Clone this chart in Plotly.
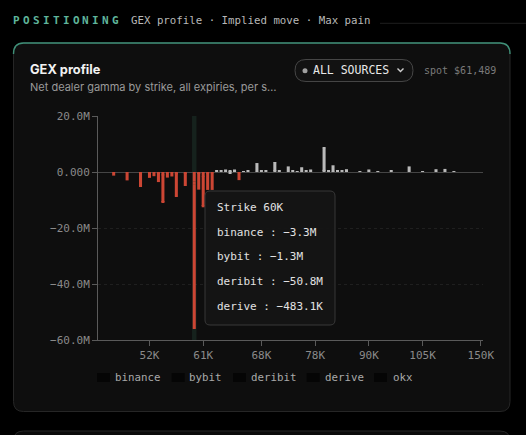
import plotly.graph_objects as go

# ---------------- data ----------------
strikes_k = [35, 40, 42, 44, 45, 46, 47, 48, 49, 50,
             51, 52, 53, 54, 55, 56, 57, 58, 58.5, 59,
             59.5, 60, 60.5, 61, 61.5, 62, 62.5, 63, 63.5, 64,
             64.5, 65, 65.5, 66, 66.5, 67, 68, 69, 70, 71,
             72, 73, 74, 75, 76, 76.5, 77, 77.5, 78, 79,
             80, 81, 82, 83, 84, 85, 86, 87, 88, 89,
             90, 91, 92, 93, 94, 95, 96, 97, 98, 100,
             102, 104, 105, 106, 108, 110, 112, 115, 118, 120,
             125, 130, 135, 140, 145, 150]

# net dealer gamma per source, $M
deribit = [0, 0, 0, -1.3, 0, 0, -3.0, 0, 0, -5.0,
           0, -2.1, -1.5, -3.2, -9.1, -2.0, -1.6, -7.4, 0, -4.6,
           0, -50.8, -5.6, -10.3, -5.9, -5.8, 0.6, 0.4, 0.9, 0.3,
           0.9, -2.6, 0.2, 0.4, 0, 2.9, 0.6, 0.4, 0, 2.9,
           0.4, 0, 2.0, 0.4, 0.1, 1.7, 0.4, 0.9, 0, 0,
           7.3, 0.5, 2.2, 0.4, 0.5, 1.0, 0, 0, 0.3, 0,
           0.9, 0, 0.3, 0, 0, 0.5, 0, 0, 0, 2.0,
           0, 0, 0.3, 0, 0, 1.0, 0, 1.1, 0, 0.2,
           0, 0, 0, 0, 0, 0]
binance = [0, 0, 0, 0, 0, 0, 0, 0, 0, 0,
           0, 0, 0, -0.4, -0.9, 0, 0, -0.6, 0, -0.4,
           0, -3.3, -0.5, -1.1, -0.5, -0.6, 0, 0, 0, -0.6,
           0, -0.3, 0, 0, 0, 0.3, 0, 0, 0, 0.4,
           0, 0, 0, 0, 0, 0, 0, 0, 0, 0,
           0.7, 0, 0, 0, 0, 0, 0, 0, 0, 0,
           0, 0, 0, 0, 0, 0, 0, 0, 0, 0,
           0, 0, 0, 0, 0, 0, 0, 0, 0, 0,
           0, 0, 0, 0, 0, 0]
bybit = [0, 0, 0, 0, 0, 0, 0, 0, 0, 0,
         0, 0, 0, 0, -0.4, 0, 0, -0.3, 0, 0,
         0, -1.3, -0.2, -0.5, 0, 0, 0, 0, 0, 0,
         0, 0, 0, 0, 0, 0, 0, 0, 0, 0,
         0, 0, 0, 0, 0, 0, 0, 0, 0, 0,
         0.3, 0, 0.2, 0, 0, 0, 0, 0, 0, 0,
         0, 0, 0, 0, 0, 0, 0, 0, 0, 0,
         0, 0, 0, 0, 0, 0, 0, 0, 0, 0,
         0, 0, 0, 0, 0, 0]
derive = [0, 0, 0, 0, 0, 0, 0, 0, 0, 0,
          0, 0, 0, 0, -0.1, 0, 0, 0, 0, 0,
          0, -0.4831, 0, -0.1, 0, 0, 0, 0, 0, 0,
          0, 0, 0, 0, 0, 0, 0, 0, 0, 0,
          0, 0, 0, 0, 0, 0, 0, 0, 0, 0,
          0, 0, 0, 0, 0, 0, 0, 0, 0, 0,
          0, 0, 0, 0, 0, 0, 0, 0, 0, 0,
          0, 0, 0, 0, 0, 0, 0, 0, 0, 0,
          0, 0, 0, 0, 0, 0]
okx = [0, 0, 0, 0, 0, 0, 0, 0, 0, -0.3,
       0, 0, 0, 0, -0.5, 0, 0, -0.4, 0, 0,
       0, 0, 0, -0.6, 0, 0, 0, 0, 0, 0.3,
       0, 0, 0, 0, 0, 0, 0, 0, 0, 0.2,
       0, 0, 0, 0, 0, 0, 0, 0, 0, 0,
       0.4, 0, 0, 0, 0, 0, 0, 0, 0, 0,
       0, 0, 0, 0, 0, 0, 0, 0, 0, 0,
       0, 0, 0, 0, 0, 0, 0, 0, 0, 0,
       0, 0, 0, 0, 0, 0]

sources = ["binance", "bybit", "deribit", "derive", "okx"]
source_values = [binance, bybit, deribit, derive, okx]

x_tick_labels = ["52K", "61K", "68K", "78K", "90K", "105K", "150K"]
y_tick_vals = [20, 0, -20, -40, -60]
y_tick_text = ["20.0M", "0.000", "\u221220.0M", "\u221240.0M", "\u221260.0M"]
hover_strike = "60K"
spot_text = "spot $61,489"

# ---------------- layout helpers ----------------
W, H = 526, 435
L, R, T, B = 98, 43, 116, 95
PW, PH = W - L - R, H - T - B
MONO = "DejaVu Sans Mono"
SANS = "Inter"


def px(x):
    return (x - L) / PW


def py(y):
    return (H - B - y) / PH


def pt(x, y):
    return f"{px(x):.5f},{py(y):.5f}"


def rrect(x0, y0, x1, y1, r):
    return (f"M {pt(x0 + r, y0)} L {pt(x1 - r, y0)} Q {pt(x1, y0)} {pt(x1, y0 + r)} "
            f"L {pt(x1, y1 - r)} Q {pt(x1, y1)} {pt(x1 - r, y1)} "
            f"L {pt(x0 + r, y1)} Q {pt(x0, y1)} {pt(x0, y1 - r)} "
            f"L {pt(x0, y0 + r)} Q {pt(x0, y0)} {pt(x0 + r, y0)} Z")


def label_k(s):
    return (f"{s:g}K")


labels = [label_k(s) for s in strikes_k]
net = [sum(v[i] for v in source_values) for i in range(len(strikes_k))]
RED, GREY = "#cc4634", "#b9b9b9"
colors = [GREY if n >= 0 else RED for n in net]

fig = go.Figure()
for name, vals in zip(sources, source_values):
    fig.add_trace(go.Bar(x=labels, y=vals, name=name, marker=dict(color=colors, line=dict(width=0)),
                         showlegend=False, hoverinfo="skip"))

shapes = []
annotations = []


def text(x, y, s, size, color, family=MONO, anchor="left", weight=None):
    f = dict(family=family, size=size, color=color)
    if weight:
        f["weight"] = weight
    annotations.append(dict(x=px(x), y=py(y), xref="paper", yref="paper", text=s, showarrow=False,
                            xanchor=anchor, yanchor="middle", font=f, borderpad=0, borderwidth=0))


# card backgrounds
shapes.append(dict(type="path", path=rrect(13.5, 43, 510, 411.5, 10), xref="paper", yref="paper",
                   fillcolor="#0e0e0e", line=dict(color="#262626", width=1), layer="below"))
shapes.append(dict(type="path", xref="paper", yref="paper", layer="below",
                   path=f"M {pt(13.5, 54)} Q {pt(13.5, 43)} {pt(23.5, 43)} L {pt(500, 43)} Q {pt(510, 43)} {pt(510, 54)}",
                   line=dict(color="#3f9078", width=1.4)))
shapes.append(dict(type="path", xref="paper", yref="paper", layer="below",
                   path=f"M {pt(13.5, 441)} Q {pt(13.5, 431)} {pt(23.5, 431)} L {pt(500, 431)} Q {pt(510, 431)} {pt(510, 441)}",
                   fillcolor="#0b0b0b", line=dict(color="#262626", width=1)))
# header rule
shapes.append(dict(type="line", xref="paper", yref="paper", x0=px(380), x1=px(526), y0=py(23.3), y1=py(23.3),
                   line=dict(color="#1e1e1e", width=1), layer="below"))
# hover band
idx60 = labels.index(hover_strike)
shapes.append(dict(type="rect", xref="x", yref="paper", x0=idx60 - 0.5, x1=idx60 + 0.5, y0=0, y1=1,
                   fillcolor="rgba(70,140,110,0.16)", line=dict(width=0), layer="below"))
# button pill
shapes.append(dict(type="path", path=rrect(295, 59.5, 413, 81.5, 11), xref="paper", yref="paper",
                   fillcolor="#121212", line=dict(color="#464646", width=1)))
shapes.append(dict(type="circle", xref="paper", yref="paper", x0=px(302.5), x1=px(307.5), y0=py(68.2), y1=py(73.2),
                   fillcolor="#a0a0a0", line=dict(width=0)))
shapes.append(dict(type="path", xref="paper", yref="paper",
                   path=f"M {pt(397.5, 68.5)} L {pt(400.5, 71.5)} L {pt(403.5, 68.5)}",
                   line=dict(color="#d0d0d0", width=1.4)))
# tooltip box
shapes.append(dict(type="path", path=rrect(205, 191, 335, 325, 5), xref="paper", yref="paper",
                   fillcolor="rgba(21,21,21,0.97)", line=dict(color="#383838", width=1)))

# header
word = "POSITIONING"
for i, ch in enumerate(word):
    text(16.6 + i * 9.9, 20, ch, 11, "#5fb59b", anchor="center", weight="bold")
text(130.5, 20, "GEX profile \u00b7 Implied move \u00b7 Max pain", 10.75, "#b8b8b8")

# card header
text(30, 69.5, "GEX profile", 12.8, "#f2f2f2", family=SANS, weight="bold")
text(30, 86.7, "Net dealer gamma by strike, all expiries, per s\u2026", 11, "#9a9a9a", family=SANS)
text(312.5, 70, "ALL SOURCES", 11.5, "#e8e8e8")
text(424, 70.5, spot_text, 10, "#7a7a7a")


def fmt(v):
    sign = "\u2212" if v < 0 else ""
    a = abs(v)
    if a >= 1:
        return f"{sign}{a:.1f}M"
    return f"{sign}{a * 1000:.1f}K"


# tooltip
text(217, 207, f"Strike {hover_strike}", 11, "#e2e2e2")
row_y = 232
for name, vals in zip(sources, source_values):
    v = vals[idx60]
    if v != 0:
        text(217, row_y, f"{name} : {fmt(v)}", 11, "#e2e2e2")
        row_y += 24.7

# manual legend
leg_sw = [97, 171.7, 233, 306.7, 374]
leg_tx = [115, 189, 250.7, 325, 392.7]
for name, sx, tx in zip(sources, leg_sw, leg_tx):
    shapes.append(dict(type="rect", xref="paper", yref="paper", x0=px(sx), x1=px(sx + 13), y0=py(382), y1=py(373),
                       fillcolor="#050505", line=dict(width=0)))
    text(tx, 377.5, name, 10.8, "#a9a9a9")

fig.update_layout(
    width=W, height=H,
    margin=dict(l=L, r=R, t=T, b=B, pad=0),
    paper_bgcolor="#000000", plot_bgcolor="rgba(0,0,0,0)",
    barmode="relative", bargap=0.32,
    font=dict(family=MONO, size=11, color="#8a8a8a"),
    showlegend=False,
    hovermode=False,
    xaxis=dict(type="category", categoryorder="array", categoryarray=labels,
               range=[-0.5, len(labels) - 0.5], tickmode="array", tickvals=x_tick_labels,
               ticktext=x_tick_labels, ticks="outside", ticklen=5, tickcolor="#5a5a5a",
               showline=True, linecolor="#5a5a5a", linewidth=1, showgrid=False, zeroline=False,
               tickfont=dict(family=MONO, size=11, color="#8a8a8a")),
    yaxis=dict(range=[-60, 20], tickmode="array", tickvals=y_tick_vals, ticktext=y_tick_text,
               ticks="outside", ticklen=5, tickcolor="#5a5a5a", showline=True, linecolor="#5a5a5a",
               linewidth=1, showgrid=True, gridcolor="rgba(255,255,255,0.07)", griddash="dot",
               zeroline=True, zerolinecolor="#454545", zerolinewidth=1,
               tickfont=dict(family=MONO, size=11, color="#8a8a8a")),
    shapes=shapes, annotations=annotations,
)

fig.write_html("out.html", config={"displayModeBar": False},
               post_script="document.body.style.margin='0';document.body.style.background='#000';"
                           "document.body.style.overflow='hidden';")
